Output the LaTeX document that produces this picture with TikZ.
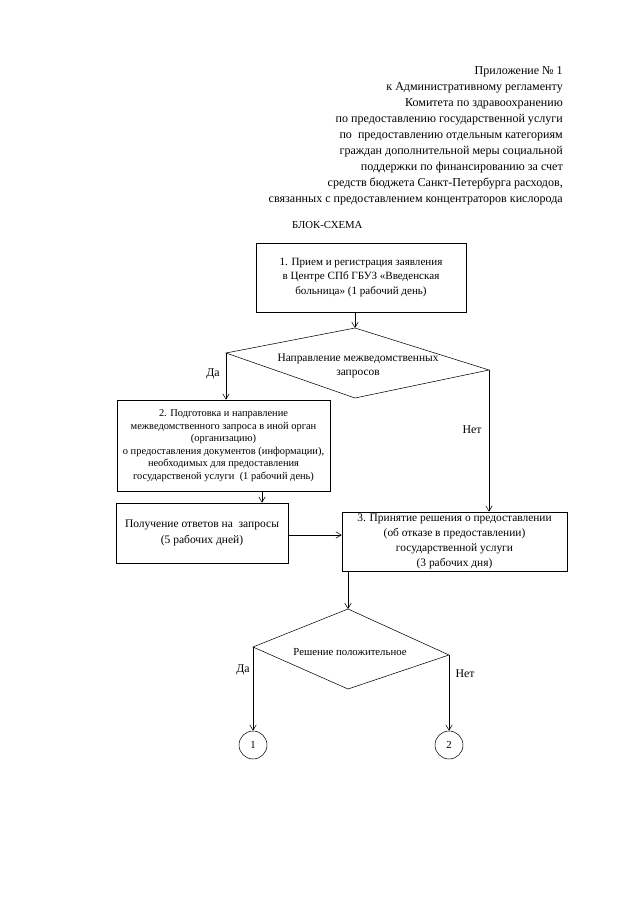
\documentclass[tikz,border=0pt]{standalone}
\usepackage{fontspec}
\setmainfont{Liberation Serif}
\usetikzlibrary{arrows.meta}
\begin{document}
\begin{tikzpicture}[x=0.9297pt,y=-0.9297pt,
  box/.style={draw, line width=0.6pt, inner sep=2pt, align=center, font=\fontsize{10}{11.6}\selectfont},
  arr/.style={-{Straight Barb[length=5pt,width=6pt]}, line width=0.5pt},
  dia/.style={draw, line width=0.5pt},
  lbl/.style={font=\fontsize{11}{12}\selectfont, inner sep=0pt},
  circ/.style={draw, circle, line width=0.5pt, minimum size=26pt, inner sep=0pt, font=\fontsize{10}{12}\selectfont}]
\useasboundingbox (0,0) rectangle (640,905);
% header
\node[anchor=north east, align=right, inner sep=0pt, font=\fontsize{11.2}{14.9}\selectfont] (hdr) at (563,66)
 {Приложение № 1\\к Административному регламенту\\Комитета по здравоохранению\\по предоставлению государственной услуги\\по\ \ предоставлению отдельным категориям\\граждан дополнительной меры социальной\\поддержки по финансированию за счет\\средств бюджета Санкт-Петербурга расходов,\\связанных с предоставлением концентраторов кислорода};
\node[anchor=west, inner sep=0pt, font=\fontsize{10}{12}\selectfont] (title) at (292,225) {БЛОК-СХЕМА};
% boxes
\node[box, font=\fontsize{10.3}{13.5}\selectfont, minimum width=195.2pt, minimum height=64.1pt] (b1) at (361,277.5)
 {1. Прием и регистрация заявления\\в Центре СПб ГБУЗ «Введенская\\больница» (1 рабочий день)};
\node[box, font=\fontsize{9.7}{11.6}\selectfont, minimum width=198pt, minimum height=84.6pt] (b2) at (223.5,445.5)
 {2. Подготовка и направление\\межведомственного запроса в иной орган\\(организацию)\\о предоставления документов (информации),\\необходимых для предоставления\\государственой услуги\ \ (1 рабочий день)};
\node[box, font=\fontsize{10.7}{14.5}\selectfont, minimum width=159.9pt, minimum height=55.8pt] (b4) at (202,533)
 {Получение ответов на\ \ запросы\\(5 рабочих дней)};
\node[box, font=\fontsize{10.6}{13.8}\selectfont, minimum width=209.2pt, minimum height=54.9pt] (b3) at (454.5,541.5)
 {3. Принятие решения о предоставлении\\(об отказе в предоставлении)\\государственной услуги\\(3 рабочих дня)};
% diamond 1
\coordinate (d1t) at (355,328);
\coordinate (d1l) at (226,353);
\coordinate (d1r) at (489,370);
\coordinate (d1b) at (355,398);
\draw[dia] (d1t) -- (d1r) -- (d1b) -- (d1l) -- cycle;
\node[align=center, inner sep=0pt, font=\fontsize{10.6}{13}\selectfont] (d1txt) at (358,366) {Направление межведомственных\\запросов};
% diamond 2
\coordinate (d2t) at (348,609);
\coordinate (d2l) at (253,647);
\coordinate (d2r) at (449,655);
\coordinate (d2b) at (348,689);
\draw[dia] (d2t) -- (d2r) -- (d2b) -- (d2l) -- cycle;
\node[inner sep=0pt, font=\fontsize{10}{12}\selectfont] (d2txt) at (350,652) {Решение положительное};
% circles
\node[circ] (c1) at (253,745) {1};
\node[circ] (c2) at (449,745) {2};
% connectors
\draw[arr] (b1.south -| d1t) -- (d1t);
\draw[arr] (d1l) -- (d1l |- b2.north);
\draw[arr] (d1r) -- (d1r |- b3.north);
\coordinate (b2s) at (262,0);
\draw[arr] (b2.south -| b2s) -- (b4.north -| b2s);
\coordinate (b4e) at (0,535);
\draw[arr] (b4.east |- b4e) -- (b3.west |- b4e);
\draw[arr] (b3.south -| d2t) -- (d2t);
\draw[arr] (d2l) -- (c1.north);
\draw[arr] (d2r) -- (c2.north);
% labels
\node[lbl] (da1) at (213,374) {Да};
\node[lbl] (net1) at (472,430) {Нет};
\node[lbl] (da2) at (243,670) {Да};
\node[lbl] (net2) at (465,674) {Нет};
\end{tikzpicture}
\end{document}
